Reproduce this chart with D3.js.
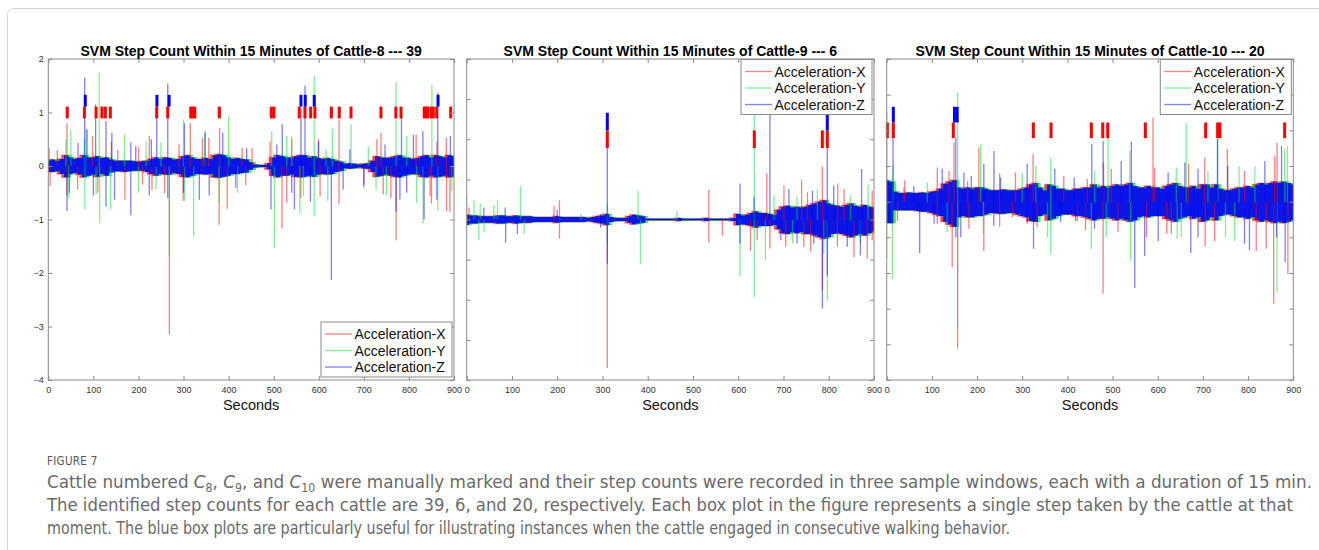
<!DOCTYPE html>
<meta charset="utf-8">
<script src="https://cdn.jsdelivr.net/npm/d3@7"></script>
<style>
  body { margin: 0; background: #fff; }
  svg text { font-family: "Liberation Sans", Arial, Helvetica, sans-serif; }
</style>
<body>
<script>
// ---------------- data ----------------
var binStep = 10; // seconds between envelope samples, 0..900

// dense band envelope (upper / lower edge) of each recording
var p1Hi = [0.1,0.12,0.1,0.13,0.2,0.16,0.13,0.15,0.2,0.16,
            0.16,0.18,0.15,0.16,0.12,0.1,0.1,0.1,0.1,0.09,
            0.08,0.09,0.1,0.13,0.16,0.13,0.16,0.15,0.12,0.13,
            0.18,0.2,0.16,0.13,0.13,0.15,0.13,0.2,0.22,0.2,
            0.16,0.13,0.15,0.13,0.12,0.07,0.03,0.02,0.02,0.05,
            0.16,0.2,0.18,0.16,0.16,0.18,0.2,0.2,0.16,0.18,
            0.15,0.13,0.15,0.13,0.1,0.08,0.04,0.05,0.04,0.03,
            0.04,0.05,0.1,0.18,0.16,0.15,0.16,0.18,0.2,0.16,
            0.15,0.13,0.15,0.18,0.2,0.16,0.2,0.18,0.16,0.2,
            0.18];
var p1Lo = [-0.11,-0.11,-0.1,-0.15,-0.21,-0.15,-0.13,-0.16,-0.21,-0.18,
            -0.16,-0.2,-0.15,-0.18,-0.12,-0.1,-0.1,-0.11,-0.1,-0.09,
            -0.09,-0.09,-0.11,-0.15,-0.18,-0.15,-0.16,-0.16,-0.13,-0.15,
            -0.2,-0.21,-0.18,-0.15,-0.15,-0.16,-0.15,-0.21,-0.22,-0.2,
            -0.18,-0.15,-0.15,-0.13,-0.12,-0.07,-0.03,-0.02,-0.02,-0.06,
            -0.18,-0.21,-0.18,-0.18,-0.16,-0.2,-0.21,-0.2,-0.18,-0.2,
            -0.16,-0.15,-0.16,-0.15,-0.11,-0.09,-0.04,-0.05,-0.04,-0.03,
            -0.04,-0.05,-0.11,-0.2,-0.18,-0.16,-0.18,-0.2,-0.21,-0.18,
            -0.16,-0.15,-0.16,-0.2,-0.21,-0.18,-0.21,-0.2,-0.18,-0.21,
            -0.2];
var p2Hi = [-0.94,-0.95,-0.95,-0.96,-0.96,-0.96,-0.96,-0.95,-0.95,-0.96,
            -0.96,-0.95,-0.96,-0.96,-0.96,-0.97,-0.97,-0.97,-0.97,-0.97,
            -0.96,-0.97,-0.97,-0.97,-0.97,-0.97,-0.97,-0.98,-0.97,-0.96,
            -0.95,-0.93,-0.97,-0.98,-0.98,-0.98,-0.96,-0.94,-0.95,-0.96,
            -0.99,-0.99,-0.99,-0.99,-0.99,-0.99,-0.99,-0.98,-0.99,-0.99,
            -0.99,-0.99,-0.99,-0.98,-0.99,-0.99,-0.99,-0.99,-0.99,-0.98,
            -0.93,-0.95,-0.94,-0.92,-0.9,-0.92,-0.92,-0.93,-0.94,-0.88,
            -0.84,-0.83,-0.85,-0.84,-0.85,-0.84,-0.82,-0.8,-0.78,-0.76,
            -0.8,-0.82,-0.83,-0.84,-0.82,-0.8,-0.83,-0.84,-0.82,-0.84,
            -0.85];
var p2Lo = [-1.07,-1.05,-1.05,-1.04,-1.04,-1.04,-1.04,-1.05,-1.05,-1.04,
            -1.04,-1.05,-1.04,-1.04,-1.04,-1.03,-1.03,-1.03,-1.03,-1.03,
            -1.04,-1.03,-1.03,-1.03,-1.03,-1.03,-1.03,-1.02,-1.03,-1.04,
            -1.05,-1.07,-1.03,-1.02,-1.02,-1.02,-1.04,-1.06,-1.05,-1.04,
            -1.01,-1.01,-1.01,-1.01,-1.01,-1.01,-1.01,-1.02,-1.01,-1.01,
            -1.01,-1.01,-1.01,-1.02,-1.01,-1.01,-1.01,-1.01,-1.01,-1.02,
            -1.07,-1.06,-1.07,-1.08,-1.1,-1.08,-1.08,-1.08,-1.07,-1.12,
            -1.17,-1.18,-1.16,-1.17,-1.16,-1.18,-1.18,-1.2,-1.22,-1.24,
            -1.22,-1.18,-1.17,-1.18,-1.2,-1.22,-1.2,-1.18,-1.2,-1.17,
            -1.15];
var p3Hi = [-0.7,-0.72,-0.86,-0.88,-0.88,-0.87,-0.88,-0.88,-0.87,-0.88,
            -0.86,-0.85,-0.82,-0.75,-0.72,-0.7,-0.8,-0.82,-0.8,-0.82,
            -0.8,-0.8,-0.82,-0.84,-0.84,-0.84,-0.83,-0.84,-0.84,-0.84,
            -0.82,-0.8,-0.76,-0.74,-0.8,-0.84,-0.76,-0.78,-0.82,-0.82,
            -0.84,-0.84,-0.82,-0.82,-0.8,-0.8,-0.76,-0.8,-0.78,-0.8,
            -0.78,-0.76,-0.78,-0.76,-0.74,-0.78,-0.8,-0.8,-0.78,-0.8,
            -0.8,-0.82,-0.78,-0.76,-0.74,-0.78,-0.8,-0.8,-0.78,-0.82,
            -0.76,-0.76,-0.8,-0.76,-0.82,-0.84,-0.84,-0.82,-0.8,-0.8,
            -0.78,-0.8,-0.76,-0.74,-0.76,-0.74,-0.72,-0.74,-0.72,-0.74,
            -0.76];
var p3Lo = [-1.3,-1.3,-1.12,-1.12,-1.12,-1.12,-1.12,-1.13,-1.14,-1.14,
            -1.16,-1.18,-1.2,-1.28,-1.32,-1.35,-1.22,-1.2,-1.22,-1.22,
            -1.2,-1.2,-1.18,-1.16,-1.16,-1.17,-1.17,-1.16,-1.16,-1.18,
            -1.2,-1.22,-1.27,-1.28,-1.2,-1.18,-1.26,-1.24,-1.2,-1.18,
            -1.18,-1.18,-1.2,-1.2,-1.22,-1.24,-1.26,-1.24,-1.24,-1.22,
            -1.24,-1.26,-1.24,-1.26,-1.28,-1.26,-1.22,-1.2,-1.22,-1.2,
            -1.2,-1.2,-1.24,-1.26,-1.28,-1.24,-1.22,-1.2,-1.24,-1.22,
            -1.28,-1.26,-1.22,-1.26,-1.2,-1.18,-1.18,-1.2,-1.22,-1.22,
            -1.24,-1.22,-1.26,-1.28,-1.26,-1.28,-1.3,-1.28,-1.3,-1.28,
            -1.26];

// isolated spikes [second, peak value] per axis
var p1SpikeX = [[41.5,0.8],[315,0.8],[356,0.53],[380,0.71],[452,0.34],[645,0.87],[738,0.62],[816,0.59],[883,0.53],
                [20,0.3],[140,0.45],[200,0.35],[290,0.4],[600,0.5],[2,0.34],[98,0.56],[154,0.3],[224,0.56],
                [342,0.53],[430,0.34],[492,0.46],[540,0.5],[729,0.5],[862,0.46],
                [268.6,-3.15],[379,-1.1],[170,-0.63],[299,-0.65],[397,-0.8],[518.5,-1.17],[771.5,-1.39],[891,-0.86],
                [883.5,-0.85],[645,-0.72],[41,-0.55],[110,-0.5],[230,-0.45],[560,-0.6],[700,-0.35],[760,-0.6],[850,-0.7],
                [4,-0.38],[65,-0.44],[209,-0.35],[258,-0.51],[438,-0.36],[529,-0.69],[603,-0.56],[743,-0.53],[847,-0.56]];
var p1SpikeY = [[113,1.74],[50,0.67],[169,0.59],[300,0.87],[400,0.93],[590,1.69],[771.5,1.57],[850.9,1.52],[495.6,0.65],
                [671.6,0.78],[710,0.36],[80,0.5],[250,0.45],[540,0.55],[630,0.7],[39,0.5],[84,0.7],[217,0.46],
                [347,0.62],[529,0.56],[616,0.31],[795,0.56],
                [268.6,-1.69],[114,-1.07],[81,-0.81],[138,-0.81],[322.5,-1.32],[501.5,-1.53],[831.5,-1.07],[590,-0.94],
                [558,-0.89],[864,-0.83],[45,-0.6],[200,-0.5],[420,-0.5],[620,-0.65],[750,-0.55],[106,-0.53],
                [239,-0.44],[302,-0.66],[379,-0.69],[566,-0.56],[727,-0.44],[817,-0.69],[895,-0.47]];
var p1SpikeZ = [[80.7,1.65],[105,1.15],[265,1.54],[240.5,1.05],[560.5,1.05],[569.5,1.5],[864,1.37],[128,0.84],[183,0.44],
                [228.6,0.5],[348,0.65],[440,0.34],[86,0.68],[519,0.78],[783.5,0.99],[831,0.65],[892,0.56],
                [66,0.43],[141,0.62],[194,0.37],[302,0.8],[387,0.62],[507,0.4],[599,0.46],[669,0.31],[747,0.4],[810,0.59],
                [41.5,-0.84],[128,-0.76],[183,-0.92],[357,-0.55],[628,-2.13],[494,-0.81],[581.5,-0.67],[780,-0.63],
                [546,-0.81],[833.7,-1.0],[771.5,-0.85],[265,-0.6],[100,-0.55],[300,-0.5],[700,-0.4],[47,-0.5],
                [147,-0.63],[224,-0.55],[335,-0.63],[416,-0.41],[540,-0.5],[654,-0.44],[795,-0.5],[862,-0.63]];

var p2SpikeX = [[205,-0.76],[535,-0.63],[663,-0.42],[786,-0.34],[5,-0.85],[740,-0.5],[820,-0.55],[193,-0.83],
                [701,-0.58],[753,-0.66],[834,-0.62],[896,-0.64],
                [310.7,-2.85],[205,-1.24],[535,-1.29],[565,-1.2],[885,-1.49],[855.7,-1.47],[705,-1.34],[670,-1.36],
                [627,-1.39],[786,-1.88],[760,-1.4],[745,-1.34],[819,-1.34],[896,-1.26],[642,-1.26]];
var p2SpikeY = [[0,-0.7],[119,-0.59],[378.5,-0.64],[465,-0.89],[635.5,0.5],[887,-0.56],[310.7,-0.8],[30,-0.8],[60,-0.82],
                [16,-0.76],[68,-0.76],[252,-0.93],[730,-0.72],[775,-0.62],[848,-0.7],[679,-0.7],
                [27,-1.26],[127,-1.18],[384,-1.55],[604,-1.71],[635.5,-1.97],[660,-1.5],[796.8,-2.0],[310.7,-1.3],
                [38,-1.16],[720,-1.3],[789,-1.43],[870,-1.3]];
var p2SpikeZ = [[310.7,-0.1],[604,-0.55],[670,0.5],[872.6,-0.37],[796.8,0.0],[85,-0.85],[200,-0.88],[38,-0.85],
                [296,-0.93],[712,-0.62],[764,-0.64],[811,-0.58],[635,-0.72],
                [86,-1.29],[310.7,-1.55],[870,-1.45],[730,-1.3],[786,-2.11],[796.8,-1.7],[604,-1.3],[112,-1.18],
                [296,-1.1],[694,-1.26],[767,-1.3],[841,-1.34]];

var p3SpikeX = [[0,0.25],[149,-0.17],[112,-0.52],[204,-0.24],[324,-0.33],[589.5,0.18],[754,-0.26],[864,-0.17],
                [704,-0.38],[480,-0.45],[40,-0.7],[250,-0.6],[38,-0.8],[138,-0.57],[179,-0.71],[285,-0.59],[392,-0.64],
                [444,-0.68],[497,-0.54],[593,-0.52],[668,-0.47],[792,-0.57],[859,-0.36],
                [157,-3.06],[145,-1.92],[215,-1.69],[250,-1.35],[479,-2.29],[856.6,-2.43],[705,-1.63],[818,-1.69],
                [888,-2.01],[440,-1.4],[620,-1.45],[24,-1.27],[112,-1.31],[182,-1.38],[278,-1.22],[333,-1.36],
                [422,-1.27],[512,-1.43],[575,-1.5],[630,-1.45],[726,-1.55],[840,-1.66]];
var p3SpikeY = [[157,0.53],[208,-0.2],[363,-0.39],[663,0.1],[538,-0.29],[887,-0.22],[733,-0.12],[490,-0.01],
                [14,-0.5],[300,-0.6],[780,-0.5],[90,-0.73],[330,-0.5],[460,-0.57],[641,-0.52],[711,-0.57],[815,-0.5],
                [881,-0.26],
                [157,-2.76],[12.5,-2.08],[0,-1.8],[214,-1.45],[363,-1.73],[864,-2.27],[540,-1.82],[453,-1.66],
                [643,-1.52],[750,-1.5],[134,-1.43],[356,-1.5],[486,-1.5],[652,-1.5],[770,-1.55]];
var p3SpikeZ = [[14,-0.01],[237.5,-0.29],[372,-0.54],[187.3,-0.64],[541.5,-0.16],[874,-0.22],[732,-0.12],[479,-0.15],
                [454,-0.19],[153,-0.1],[660,-0.45],[60,-0.78],[123,-0.54],[171,-0.59],[215,-0.47],[252,-0.66],
                [311,-0.47],[415,-0.66],[519,-0.43],[623,-0.59],[689,-0.54],[755,-0.5],[837,-0.43],
                [12.5,-1.31],[73,-1.72],[153,-1.5],[325,-1.66],[418,-1.27],[549,-2.21],[673,-1.72],[803,-1.68],
                [882,-1.85],[571,-1.76],[105,-1.31],[164,-1.5],[237,-1.34],[311,-1.31],[385,-1.29],[460,-1.38],
                [601,-1.55],[689,-1.5],[792,-1.59],[863,-1.5]];

// detected steps (seconds): red = single step, blue = consecutive walking
var p1Red  = [42,80,106,119,126.5,137.6,240.5,264.9,316,320,325,379.4,494.8,500.6,556.8,569.4,582,591.5,
              628,645.5,671.5,738,771,782.5,834,838,841.6,849,854,861.6,892.6];
var p1Blue = [82,241,268,560.5,570,590,864.6];
var p2Red  = [310.7,635.5,785.8,796.8];
var p2Blue = [310.7,796.8];
var p3Red  = [1.4,14.7,147.5,324.6,363.8,453,478.2,489.3,572.5,706,732.6,737.6,880.9];
var p3Blue = [14.7,150,156];
var stepLevel = [1, 0, 0];

var titles = ["SVM Step Count Within 15 Minutes of Cattle-8 --- 39",
              "SVM Step Count Within 15 Minutes of Cattle-9 --- 6",
              "SVM Step Count Within 15 Minutes of Cattle-10 --- 20"];
var seriesNames = ["Acceleration-X", "Acceleration-Y", "Acceleration-Z"];
var xTicks = [0,100,200,300,400,500,600,700,800,900];

// ---------------- layout ----------------
var W = 1319, H = 550;
var colors = ["#ff0000", "#00e632", "#0000ff"];
var panels = [
  {left: 48.3, right: 454, yDomain: [-4, 2], yTicks: d3.range(-4, 2.01, 1), yLabels: true,
   hi: p1Hi, lo: p1Lo, spikes: [p1SpikeX, p1SpikeY, p1SpikeZ], red: p1Red, blue: p1Blue, legendAt: "bottom"},
  {left: 466.7, right: 874, yDomain: [-3, 1], yTicks: d3.range(-3, 1.01, 0.5), yLabels: false,
   hi: p2Hi, lo: p2Lo, spikes: [p2SpikeX, p2SpikeY, p2SpikeZ], red: p2Red, blue: p2Blue, legendAt: "top"},
  {left: 886.7, right: 1293.3, yDomain: [-3.5, 1], yTicks: d3.range(-3.5, 1.01, 0.5), yLabels: false,
   hi: p3Hi, lo: p3Lo, spikes: [p3SpikeX, p3SpikeY, p3SpikeZ], red: p3Red, blue: p3Blue, legendAt: "top"}
];
var plotTop = 59, plotBottom = 380;

var svg = d3.select("body").append("svg")
    .attr("width", W).attr("height", H);

// outer frame of the figure
svg.append("rect")
    .attr("x", 7.5).attr("y", 8.5).attr("width", W).attr("height", H + 20)
    .attr("rx", 6).attr("fill", "none").attr("stroke", "#d4d4d4");

panels.forEach(function(p, k) {
  var x = d3.scaleLinear().domain([0, 900]).range([p.left, p.right]);
  var y = d3.scaleLinear().domain(p.yDomain).range([plotBottom, plotTop]);
  var g = svg.append("g");

  var clipId = "clip" + k;
  svg.append("clipPath").attr("id", clipId).append("rect")
      .attr("x", p.left).attr("y", plotTop).attr("width", p.right - p.left).attr("height", plotBottom - plotTop);
  var plot = g.append("g").attr("clip-path", "url(#" + clipId + ")");

  // dense band: red / green peeking out under the blue core
  var band = p.hi.map(function(h, i) { return {t: i * binStep, hi: h, lo: p.lo[i]}; });
  var curves = [d3.curveStepBefore, d3.curveStepAfter, d3.curveStep];
  var strokeW = [1.4, 1, 0];
  [0, 1, 2].forEach(function(c) {
    var area = d3.area().curve(curves[c])
        .x(function(d) { return x(d.t); })
        .y0(function(d) { return y(d.lo); })
        .y1(function(d) { return y(d.hi); });
    plot.append("path").datum(band)
        .attr("d", area)
        .attr("fill", colors[c]).attr("fill-opacity", c == 2 ? 0.88 : 0.7)
        .attr("stroke", colors[c]).attr("stroke-opacity", 0.45)
        .attr("stroke-width", strokeW[c]);
  });

  // isolated spikes, drawn from the band centre out to the peak
  p.spikes.forEach(function(list, c) {
    plot.selectAll(null).data(list).enter().append("line")
        .attr("x1", function(d) { return x(d[0]); })
        .attr("x2", function(d) { return x(d[0]); })
        .attr("y1", function(d) {
          var i = Math.min(p.hi.length - 1, Math.round(d[0] / binStep));
          return y((p.hi[i] + p.lo[i]) / 2);
        })
        .attr("y2", function(d) { return y(d[1]); })
        .attr("stroke", colors[c]).attr("stroke-opacity", 0.5)
        .attr("stroke-width", 1.3);
  });

  // step boxes
  var lvl = stepLevel[k];
  g.selectAll(null).data(p.red).enter().append("rect")
      .attr("x", function(d) { return x(d) - 1.5; })
      .attr("width", 3)
      .attr("y", y(lvl + 0.11))
      .attr("height", y(lvl - 0.11) - y(lvl + 0.11))
      .attr("fill", "#ff0000");
  g.selectAll(null).data(p.blue).enter().append("rect")
      .attr("x", function(d) { return x(d) - 1.5; })
      .attr("width", 3)
      .attr("y", y(lvl + 0.33))
      .attr("height", y(lvl + 0.11) - y(lvl + 0.33))
      .attr("fill", "#0000ff");

  // axes, MATLAB style box with inward ticks
  var ax = [
    g.append("g").attr("transform", "translate(0," + plotBottom + ")")
      .call(d3.axisBottom(x).tickValues(xTicks).tickSizeInner(-4).tickSizeOuter(0).tickPadding(6.3)),
    g.append("g").attr("transform", "translate(0," + plotTop + ")")
      .call(d3.axisTop(x).tickValues(xTicks).tickSizeInner(-4).tickSizeOuter(0).tickFormat("")),
    g.append("g").attr("transform", "translate(" + p.left + ",0)")
      .call(d3.axisLeft(y).tickValues(p.yTicks).tickSizeInner(-4).tickSizeOuter(0).tickPadding(4.5)
        .tickFormat(p.yLabels ? d3.format("d") : "")),
    g.append("g").attr("transform", "translate(" + p.right + ",0)")
      .call(d3.axisRight(y).tickValues(p.yTicks).tickSizeInner(-4).tickSizeOuter(0).tickFormat(""))
  ];
  ax.forEach(function(a) {
    a.select(".domain").remove();
    a.selectAll(".tick line").attr("stroke", "#8a8a8a");
    a.selectAll("text").attr("fill", "#333").attr("font-size", "9px")
        .attr("font-family", "Liberation Sans, Arial, sans-serif");
  });
  g.append("rect")
      .attr("x", p.left).attr("y", plotTop)
      .attr("width", p.right - p.left).attr("height", plotBottom - plotTop)
      .attr("fill", "none").attr("stroke", "#8a8a8a").attr("stroke-width", 1);

  // title and x label
  g.append("text")
      .attr("x", (p.left + p.right) / 2).attr("y", 55.5)
      .attr("text-anchor", "middle").attr("font-weight", "bold").attr("font-size", "14px")
      .text(titles[k]);
  g.append("text")
      .attr("x", (p.left + p.right) / 2).attr("y", 410)
      .attr("text-anchor", "middle").attr("font-size", "14.5px").attr("fill", "#111")
      .text("Seconds");

  // legend
  var lw = 131, lh = 55;
  var lx = p.right - 2 - lw;
  var ly = p.legendAt == "bottom" ? plotBottom - 3 - lh : plotTop + 0.5;
  var leg = g.append("g").attr("transform", "translate(" + lx + "," + ly + ")");
  leg.append("rect").attr("width", lw).attr("height", lh)
      .attr("fill", "#fff").attr("stroke", "#8a8a8a").attr("stroke-width", 1);
  seriesNames.forEach(function(name, i) {
    var yy = 12 + i * 16.5;
    leg.append("line").attr("x1", 4).attr("x2", 31).attr("y1", yy).attr("y2", yy)
        .attr("stroke", colors[i]).attr("stroke-opacity", 0.5).attr("stroke-width", 1.3);
    leg.append("text").attr("x", 33.5).attr("y", yy + 5)
        .attr("font-size", "14px").attr("fill", "#111").text(name);
  });
});

// ---------------- caption ----------------
var capFont = "'Liberation Sans Narrow', 'DejaVu Sans Condensed', 'Roboto Condensed', sans-serif";
svg.append("text").attr("x", 47).attr("y", 465)
    .attr("font-size", "11.5px").attr("fill", "#555").attr("letter-spacing", "0.3px")
    .style("font-family", capFont).text("FIGURE 7");

var cap1 = svg.append("text").attr("x", 47).attr("y", 488)
    .attr("font-size", "17.5px").attr("fill", "#6a6a6a").style("font-family", capFont)
    .attr("textLength", 1265).attr("lengthAdjust", "spacingAndGlyphs");
cap1.append("tspan").text("Cattle numbered ");
[["8", ", "], ["9", ", and "], ["10", " were manually marked and their step counts were recorded in three sample windows, each with a duration of 15 min."]]
  .forEach(function(s) {
    cap1.append("tspan").attr("font-style", "italic").text("C");
    cap1.append("tspan").attr("font-size", "11.5px").attr("dy", 4).text(s[0]);
    cap1.append("tspan").attr("dy", -4).text(s[1]);
  });
svg.append("text").attr("x", 47).attr("y", 511)
    .attr("font-size", "17.5px").attr("fill", "#6a6a6a").style("font-family", capFont)
    .attr("textLength", 1246).attr("lengthAdjust", "spacingAndGlyphs")
    .text("The identified step counts for each cattle are 39, 6, and 20, respectively. Each box plot in the figure represents a single step taken by the cattle at that");
svg.append("text").attr("x", 47).attr("y", 534)
    .attr("font-size", "17.5px").attr("fill", "#6a6a6a").style("font-family", capFont)
    .attr("textLength", 963).attr("lengthAdjust", "spacingAndGlyphs")
    .text("moment. The blue box plots are particularly useful for illustrating instances when the cattle engaged in consecutive walking behavior.");
</script>
</body>
